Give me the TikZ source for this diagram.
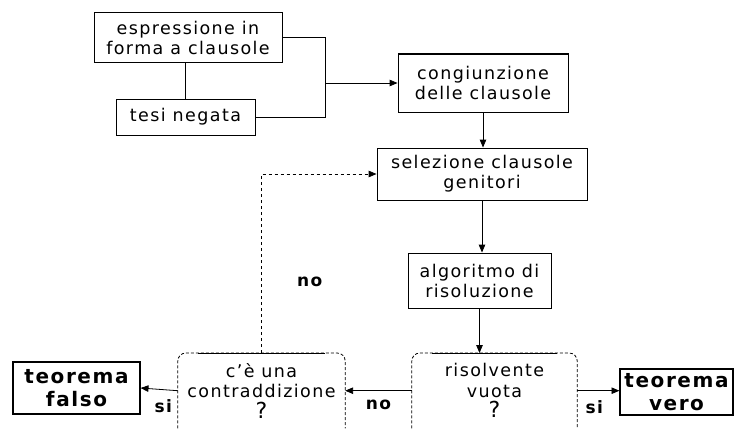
\documentclass[tikz,border=0pt]{standalone}
\usepackage{fontspec}
\setmainfont{DejaVu Sans}[LetterSpace=8]
\usetikzlibrary{positioning,arrows}
\tikzset{
  blocco/.style={draw=black, line width=1pt, align=center, inner sep=2pt,
    font=\fontsize{17.5}{20}\selectfont},
  esito/.style={draw=black, line width=1.2pt, align=center, inner sep=2pt,
    font=\fontsize{20}{23}\bfseries\selectfont},
  test/.style={align=center, anchor=north, minimum height=75, inner sep=0pt,
    font=\fontsize{17.5}{20.5}\selectfont},
  bordo/.style={line width=0.8pt, densely dashed, rounded corners=8pt},
  cima/.style={line width=1pt},
  freccia/.style={line width=0.8pt, -triangle 45},
  linea/.style={line width=0.8pt},
  ritorno/.style={line width=0.8pt, dashed, -triangle 45},
  etich/.style={font=\fontsize{17}{20}\bfseries\selectfont}
}
\newcommand{\domanda}{\fontsize{22}{22}\selectfont ?}
\begin{document}
\begin{tikzpicture}[x=1pt, y=-1pt]
    \useasboundingbox (0,0) rectangle (735,428);
    \node[blocco, minimum width=188, minimum height=49] (espr) at (188,37.5) {espressione in\\forma a clausole};
    \node[blocco, minimum width=139, minimum height=36] (tesi) at (185.5,117) {tesi negata};
    \node[blocco, minimum width=170, minimum height=58] (cong) at (483,83) {congiunzione\\delle clausole};
    \node[blocco, minimum width=210, minimum height=52] (sel) at (482,174) {selezione clausole\\genitori};
    \node[blocco, minimum width=143, minimum height=55] (algo) at (479.5,280.5) {algoritmo di\\risoluzione};
    \node[test, minimum width=167] (contr) at (261.5,353) {c'è una\\contraddizione\\\domanda};
    \node[test, minimum width=165] (vuota) at (494.5,353) {risolvente\\vuota\\\domanda};
    \node[esito, minimum width=127, minimum height=52] (falso) at (76.5,388) {teorema\\falso};
    \node[esito, minimum width=113, minimum height=46] (vero) at (676.5,392) {teorema\\vero};
    \node[coordinate] (unione) at (325,83) {};
    %
    \draw[bordo] (contr.south west) -- (contr.north west) -- (contr.north east) -- (contr.south east);
    \draw[bordo] (vuota.south west) -- (vuota.north west) -- (vuota.north east) -- (vuota.south east);
    \draw[cima] ([xshift=20pt]contr.north west) -- ([xshift=-20pt]contr.north east);
    \draw[cima] ([xshift=20pt]vuota.north west) -- ([xshift=-20pt]vuota.north east);
    %
    \draw[linea] (tesi.north) -- (tesi.north |- espr.south);
    \draw[linea] (espr.east) -| (unione);
    \draw[linea] (tesi.east) -| (unione);
    \draw[freccia] (unione) -- (cong.west);
    \draw[freccia] (cong.south) -- (cong.south |- sel.north);
    \draw[freccia] (sel.south) -- (sel.south |- algo.north);
    \draw[freccia] (algo.south) -- (algo.south |- vuota.north);
    \draw[freccia] (vuota.west) -- node[etich, below=6pt] {no} (contr.east);
    \draw[freccia] (contr.west) -- node[etich, below=6pt, xshift=4pt] {si} (falso.east);
    \draw[freccia] (vuota.east) -- node[etich, below=6pt, xshift=-4pt] {si} (vuota.east -| vero.west);
    \draw[ritorno] (contr.north) |- node[etich, pos=0.2, right=32pt] {no} (sel.west);
\end{tikzpicture}
\end{document}
